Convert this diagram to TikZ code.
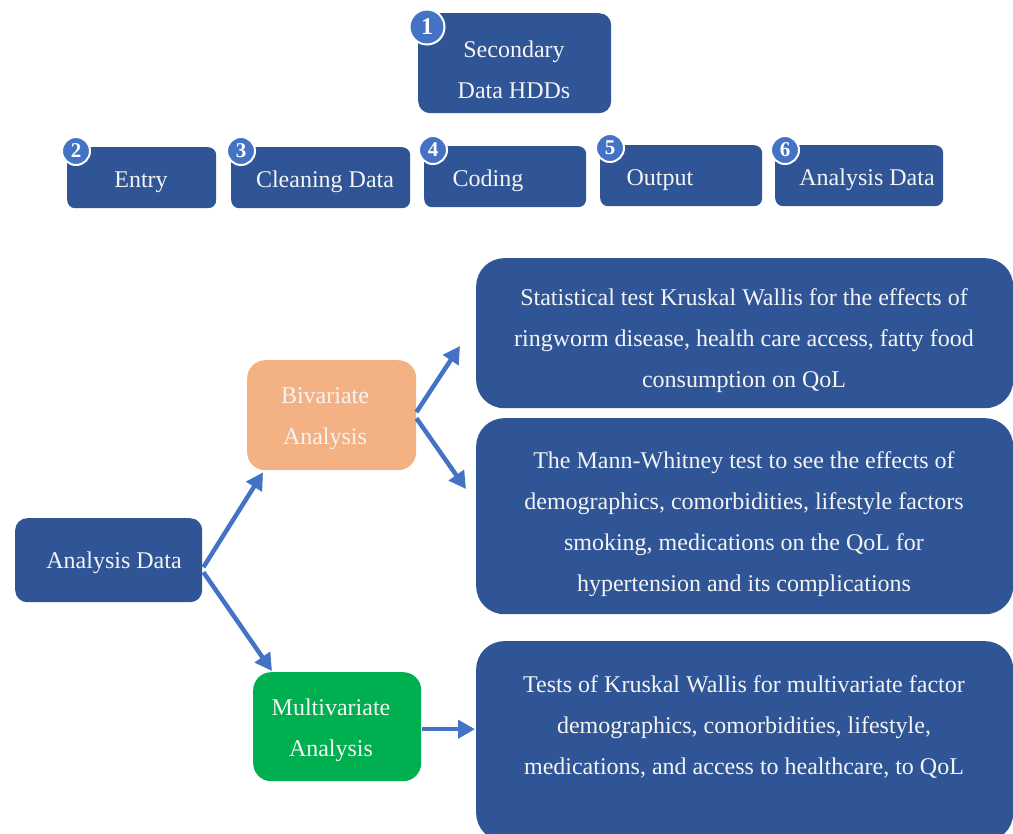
\documentclass[tikz,border=0pt]{standalone}
\usepackage{fontspec}
\setmainfont{Liberation Serif}
\usetikzlibrary{arrows.meta,calc}
\definecolor{boxblue}{HTML}{2F5597}
\definecolor{circblue}{HTML}{4472C4}
\definecolor{arrblue}{HTML}{4472C4}
\definecolor{orangebox}{HTML}{F4B183}
\definecolor{greenbox}{HTML}{00B050}
\definecolor{offwhite}{HTML}{F4F4F4}
\tikzset{
  box/.style={fill=boxblue, draw=none, anchor=north west, inner sep=0pt},
  txt/.style={text=offwhite, align=center, inner sep=0pt, font=\fontsize{24}{41}\selectfont},
  num/.style={circle, fill=circblue, draw=white, line width=2pt, minimum size=28pt, inner sep=0pt, text=white, font=\bfseries\fontsize{21}{21}\selectfont},
  bignum/.style={num, minimum size=35pt, font=\bfseries\fontsize{24}{24}\selectfont},
  arr/.style={draw=arrblue, line width=4.5pt, -{Triangle[length=17pt,width=18pt]}},
}
\begin{document}
\begin{tikzpicture}[x=1pt,y=-1pt]
\useasboundingbox (0,0) rectangle (1013,834);
% top box
\node[box, rounded corners=12pt, minimum width=193pt, minimum height=100pt] (b1) at (418,13) {};
\node[txt] (t1) at (514,70) {Secondary\\Data HDDs};
\node[bignum] (n1) at (427,27) {1};
% row of steps
\node[box, rounded corners=8pt, minimum width=149pt, minimum height=61pt] (b2) at (67,147) {};
\node[txt] (t2) at (141,182) {Entry};
\node[num] (n2) at (76,151) {2};
\node[box, rounded corners=8pt, minimum width=179pt, minimum height=61pt] (b3) at (231,147) {};
\node[txt] (t3) at (325,182) {Cleaning Data};
\node[num] (n3) at (241,151) {3};
\node[box, rounded corners=8pt, minimum width=162pt, minimum height=61pt] (b4) at (424,146) {};
\node[txt] (t4) at (488,181) {Coding};
\node[num] (n4) at (433,150) {4};
\node[box, rounded corners=8pt, minimum width=162pt, minimum height=61pt] (b5) at (600,145) {};
\node[txt] (t5) at (660,180) {Output};
\node[num] (n5) at (610,148) {5};
\node[box, rounded corners=8pt, minimum width=168pt, minimum height=61pt] (b6) at (775,145) {};
\node[txt] (t6) at (867,180) {Analysis Data};
\node[num] (n6) at (785,150) {6};
% analysis part
\node[box, rounded corners=12pt, minimum width=187pt, minimum height=84pt] (ad) at (15,518) {};
\node[txt] (tad) at (114,563) {Analysis Data};
\node[box, fill=orangebox, rounded corners=18pt, minimum width=169pt, minimum height=110pt] (biv) at (247,360) {};
\node[txt] (tbiv) at (325,419) {Bivariate\\Analysis};
\node[box, fill=greenbox, rounded corners=18pt, minimum width=168pt, minimum height=109pt] (mv) at (253,672) {};
\node[txt] (tmv) at (331,730) {Multivariate\\Analysis};
% result boxes
\node[box, rounded corners=28pt, minimum width=537pt, minimum height=150pt] (r1) at (476,258) {};
\node[txt] (tr1) at (744,341) {Statistical test Kruskal Wallis for the effects of\\ringworm disease, health care access, fatty food\\consumption on QoL};
\node[box, rounded corners=28pt, minimum width=537pt, minimum height=196pt] (r2) at (476,418) {};
\node[txt] (tr2) at (744,524) {The Mann-Whitney test to see the effects of\\demographics, comorbidities, lifestyle factors\\smoking, medications on the QoL for\\hypertension and its complications};
\node[box, rounded corners=28pt, minimum width=537pt, minimum height=200pt] (r3) at (476,641) {};
\node[txt] (tr3) at (744,727) {Tests of Kruskal Wallis for multivariate factor\\demographics, comorbidities, lifestyle,\\medications, and access to healthcare, to QoL};
% arrows
\draw[arr] ($(ad.east)+(1,7)$) -- ($(biv.south west)+(16,2)$);
\draw[arr] ($(ad.east)+(1,12)$) -- ($(mv.north west)+(19,-1)$);
\draw[arr] ($(biv.east)+(0,-3)$) -- (460,346);
\draw[arr] ($(biv.east)+(0,3)$) -- (466,489);
\draw[arr] ($(mv.east)+(1,2.5)$) -- ($(mv.east -| r3.west)+(-1,2.5)$);
\end{tikzpicture}
\end{document}
